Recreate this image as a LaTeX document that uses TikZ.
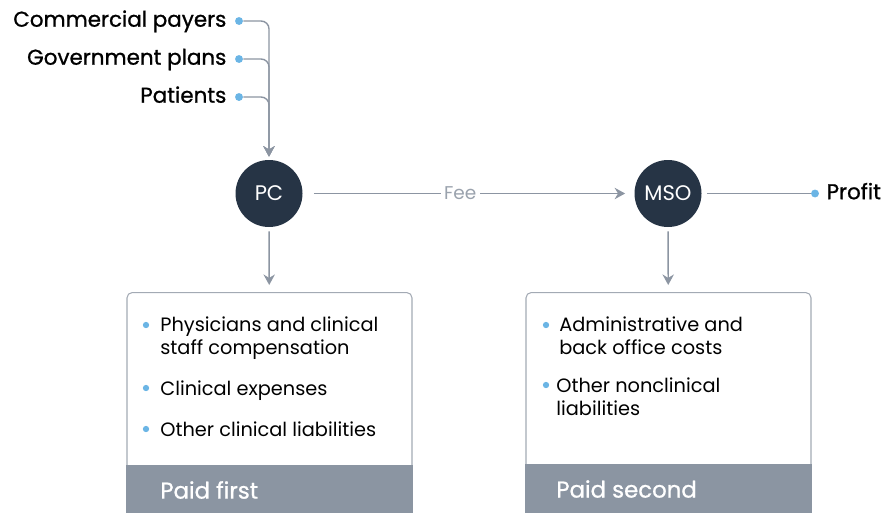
\documentclass[tikz,border=0pt]{standalone}
\usepackage{fontspec}
\setmainfont{Poppins}
\newfontfamily\medfont[FakeBold=0.9]{Poppins}
\usetikzlibrary{arrows.meta,positioning,calc}
\definecolor{navy}{HTML}{263445}
\definecolor{linegray}{HTML}{8C95A2}
\definecolor{bandgray}{HTML}{8B95A2}
\definecolor{boxline}{HTML}{A3AAB4}
\definecolor{dotblue}{HTML}{6BB5E5}
\definecolor{feegray}{HTML}{9AA2AD}
\tikzset{
  flow/.style={draw=linegray, line width=0.8pt},
  tip/.style={-{Stealth[length=6pt,width=6.5pt]}},
  hub/.style={circle, fill=navy, minimum size=1.34cm, inner sep=0pt, text=white, font=\fontsize{12}{14}\selectfont},
  bdot/.style={circle, fill=dotblue, inner sep=0pt, minimum size=4.5pt},
  src/.style={inner sep=0pt, text height=9pt, text depth=2.5pt, font=\medfont\fontsize{12.2}{14}\selectfont},
  listbox/.style={draw=boxline, line width=0.6pt, rounded corners=3pt, minimum width=5.7cm, minimum height=4.56cm, anchor=north},
  entry/.style={anchor=north west, inner sep=0pt, align=left, font=\fontsize{11}{13.1}\selectfont},
  bandtxt/.style={anchor=west, inner sep=0pt, text=white, font=\medfont\fontsize{13}{14}\selectfont}
}
\begin{document}
\begin{tikzpicture}
\useasboundingbox (0,0) rectangle (17.76,-10.24);
% payer dots and labels
\node[bdot] (d1) at (4.78,-0.42) {};
\node[bdot] (d2) at (4.78,-1.18) {};
\node[bdot] (d3) at (4.78,-1.94) {};
\node[src, left=0.16cm of d1] (cp) {Commercial payers};
\node[src, left=0.16cm of d2] (gp) {Government plans};
\node[src, left=0.16cm of d3] (pt) {Patients};
% the two entities
\node[hub] (pc) at (5.38,-3.87) {PC};
\node[hub] (mso) at (13.36,-3.87) {MSO};
\node[bdot] (pdot) at (16.30,-3.87) {};
\node[src, right=0.14cm of pdot] (profit) {Profit};
% flows
\foreach \d in {d1,d2,d3}
  \draw[flow, tip, rounded corners=4.5pt, shorten >=0.06cm] (\d) -| (pc.north);
\draw[flow, tip, shorten <=0.22cm, shorten >=0.18cm] (pc) -- node[pos=0.475, fill=white, inner sep=2pt, text=feegray, font=\fontsize{10.5}{12}\selectfont] (fee) {Fee} (mso);
\draw[flow, shorten <=0.1cm] (mso) -- (pdot);
% cost boxes
\node[listbox] (pcbox) at (5.39,-5.84) {};
\node[listbox] (msobox) at (13.37,-5.84) {};
\draw[flow, tip, shorten <=0.08cm, shorten >=0.14cm] (pc) -- (pcbox);
\draw[flow, tip, shorten <=0.08cm, shorten >=0.14cm] (mso) -- (msobox);
\fill[bandgray] ([yshift=1.12cm]pcbox.south west) rectangle (pcbox.south east);
\fill[bandgray] ([yshift=1.14cm]msobox.south west) rectangle (msobox.south east);
\node[bandtxt] (first) at (3.20,-9.80) {Paid first};
\node[bandtxt] (second) at (11.12,-9.78) {Paid second};
% list entries
\node[entry] (i1) at (3.20,-6.32) {Physicians and clinical\\staff compensation};
\node[entry] (i2) at (3.20,-7.60) {Clinical expenses};
\node[entry] (i3) at (3.20,-8.42) {Other clinical liabilities};
\node[entry] (j1) at (11.18,-6.32) {Administrative and\\back office costs};
\node[entry] (j2) at (11.12,-7.54) {Other nonclinical\\liabilities};
\foreach \p in {(2.92,-6.50),(2.92,-7.76),(2.92,-8.58),(10.92,-6.50),(10.92,-7.70)}
  \fill[dotblue] \p circle (1.8pt);
\end{tikzpicture}
\end{document}
